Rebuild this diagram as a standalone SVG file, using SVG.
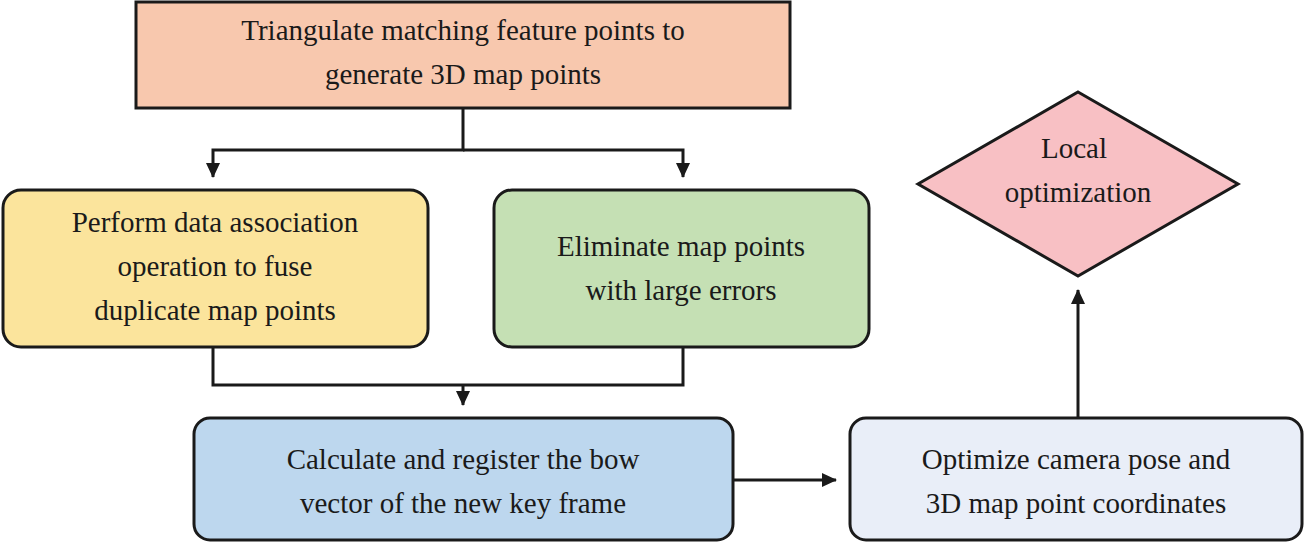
<svg xmlns="http://www.w3.org/2000/svg" width="1304" height="543" viewBox="0 0 1304 543">
<defs>
<style>
.n{stroke:#1a1a1a;stroke-width:3}
.t{font-family:"Liberation Serif",serif;font-size:29px;fill:#1a1a1a;text-anchor:middle}
.c{fill:none;stroke:#1a1a1a;stroke-width:3}
</style>
<marker id="a" markerWidth="10" markerHeight="10" refX="8" refY="5" orient="auto" markerUnits="userSpaceOnUse">
<path d="M0,0 L10,5 L0,10 z" fill="#1a1a1a"/>
</marker>
<marker id="b" markerWidth="16" markerHeight="16" refX="14" refY="8" orient="auto" markerUnits="userSpaceOnUse">
<path d="M0,1 L15,8 L0,15 z" fill="#1a1a1a"/>
</marker>
</defs>
<g id="connectors">
<path class="c" d="M463,108 V150 H213 V177" marker-end="url(#b)"/>
<path class="c" d="M463,150 H683 V177" marker-end="url(#b)"/>
<path class="c" d="M213,347 V385 H683 V347"/>
<path class="c" d="M463,385 V405" marker-end="url(#b)"/>
<path class="c" d="M733,480 H836" marker-end="url(#b)"/>
<path class="c" d="M1078,418 V290" marker-end="url(#b)"/>
</g>
<g id="n1"><rect class="n" x="136" y="2" width="654" height="106" fill="#f8c8ae"/>
<text class="t" x="463" y="40">Triangulate matching feature points to</text>
<text class="t" x="463" y="84">generate 3D map points</text></g>
<g id="n2"><rect class="n" x="3" y="190" width="425" height="157" rx="18" fill="#fbe49c"/>
<text class="t" x="215" y="232">Perform data association</text>
<text class="t" x="215" y="276">operation to fuse</text>
<text class="t" x="215" y="320">duplicate map points</text></g>
<g id="n3"><rect class="n" x="494" y="190" width="375" height="157" rx="18" fill="#c5e0b4"/>
<text class="t" x="681" y="256">Eliminate map points</text>
<text class="t" x="681" y="300">with large errors</text></g>
<g id="n4"><rect class="n" x="194" y="418" width="539" height="122" rx="16" fill="#bdd7ee"/>
<text class="t" x="463" y="469">Calculate and register the bow</text>
<text class="t" x="463" y="513">vector of the new key frame</text></g>
<g id="n5"><rect class="n" x="850" y="418" width="452" height="122" rx="16" fill="#e9eef8"/>
<text class="t" x="1076" y="469">Optimize camera pose and</text>
<text class="t" x="1076" y="513">3D map point coordinates</text></g>
<g id="n6"><polygon class="n" points="1078,92 1238,184 1078,276 918,184" fill="#f8c0c4"/>
<text class="t" x="1074" y="158">Local</text>
<text class="t" x="1078" y="202">optimization</text></g>
</svg>
